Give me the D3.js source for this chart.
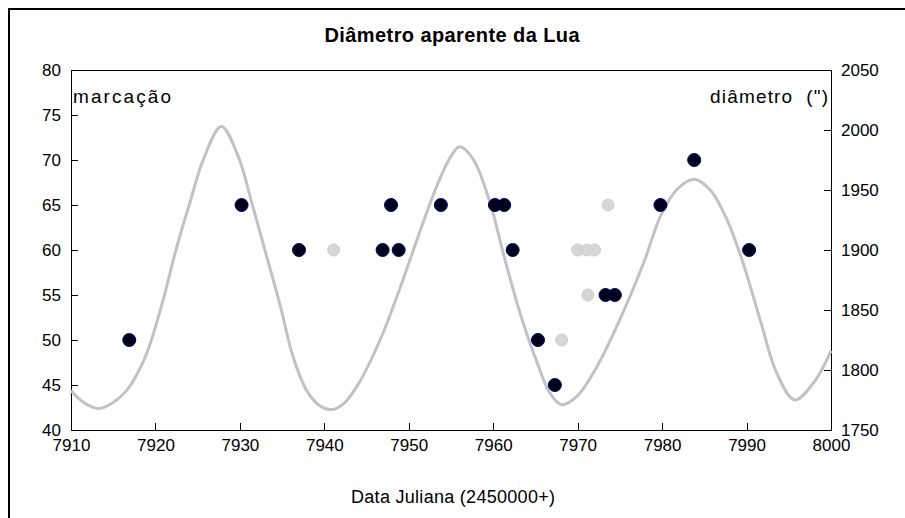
<!DOCTYPE html>
<html lang="pt">
<head>
    <meta charset="UTF-8">
    <title>Diâmetro aparente da Lua</title>
    <style>
        body { margin: 0; background: #fff; }
        text { font-family: "Liberation Sans", Arial, sans-serif; fill: #000; }
    </style>
</head>
<body>
    <svg id="chart" width="905" height="518"></svg>
    <script src="https://d3js.org/d3.v7.min.js"></script>
    <script>
        // apparent diameter curve (right axis, arcsec)
        var curveDays = [7910, 7911.5, 7913.3, 7915, 7916.6, 7918.8, 7920.7, 7922.5, 7924.1, 7925.7,
                         7927.8, 7929.8, 7931.5, 7933.2, 7934.8, 7936.3, 7937.9, 7939.5, 7940.9, 7942.3,
                         7944.0, 7946.6, 7949.0, 7951.3, 7953.3, 7954.9, 7956.0, 7957.6, 7959.6, 7961.2,
                         7963.2, 7965.1, 7966.7, 7968.1, 7969.9, 7972.3, 7975.0, 7977.8, 7979.8, 7981.7,
                         7983.8, 7985.7, 7987.7, 7989.6, 7991.6, 7993.6, 7995.7, 7998.0, 8000];
        var curveDiam = [1783, 1773, 1768, 1773, 1783, 1811, 1853, 1902, 1940, 1976,
                         2003, 1978, 1937, 1894, 1853, 1811, 1783, 1770, 1767, 1772,
                         1788, 1825, 1869, 1915, 1953, 1977, 1986, 1976, 1940, 1897,
                         1847, 1808, 1781, 1771, 1778, 1803, 1842, 1889, 1928, 1950,
                         1959, 1950, 1925, 1889, 1842, 1797, 1775, 1790, 1816];

        // marks (left axis)
        var darkDays = [7916.9, 7930.2, 7937.0, 7946.9, 7947.9, 7948.8, 7953.8, 7960.2, 7961.3,
                        7962.3, 7965.3, 7967.3, 7973.3, 7974.4, 7979.8, 7983.8, 7990.3];
        var darkMarks = [50, 65, 60, 60, 65, 60, 65, 65, 65, 60, 50, 45, 55, 55, 65, 70, 60];
        var greyDays = [7941.1, 7968.1, 7970.0, 7971.1, 7972.0, 7971.2, 7973.6];
        var greyMarks = [60, 50, 60, 60, 60, 55, 65];

        var xTicks = [7910, 7920, 7930, 7940, 7950, 7960, 7970, 7980, 7990, 8000];
        var leftTicks = [40, 45, 50, 55, 60, 65, 70, 75, 80];
        var rightTicks = [1750, 1800, 1850, 1900, 1950, 2000, 2050];

        var margin = { top: 70, right: 74, bottom: 88, left: 71 },
            width = 905 - margin.left - margin.right,
            height = 518 - margin.top - margin.bottom;

        var svg = d3.select("#chart");

        // outer chart frame (runs off the right / bottom edge)
        svg.append("rect")
           .attr("x", 9).attr("y", 9)
           .attr("width", 920).attr("height", 540)
           .style("fill", "none")
           .style("stroke", "#000")
           .style("stroke-width", 2);

        var g = svg.append("g")
                   .attr("transform", "translate(" + margin.left + "," + margin.top + ")");

        var x = d3.scaleLinear().domain([7910, 8000]).range([0, width]);
        var yLeft = d3.scaleLinear().domain([40, 80]).range([height, 0]);
        var yRight = d3.scaleLinear().domain([1750, 2050]).range([height, 0]);

        // plot box
        g.append("rect")
         .attr("width", width).attr("height", height)
         .style("fill", "none").style("stroke", "#000").style("stroke-width", 1)
         .attr("shape-rendering", "crispEdges");

        // curve
        var line = d3.line()
                     .x(function(d, i) { return x(curveDays[i]); })
                     .y(function(d) { return yRight(d); })
                     .curve(d3.curveCatmullRom.alpha(0.5));

        g.append("path")
         .datum(curveDiam)
         .attr("d", line)
         .style("fill", "none")
         .style("stroke", "#c3c0c6")
         .style("stroke-width", 3);

        // grey marks
        g.selectAll(".grey")
         .data(greyMarks)
         .enter().append("circle")
         .attr("class", "grey")
         .attr("cx", function(d, i) { return x(greyDays[i]); })
         .attr("cy", function(d) { return yLeft(d); })
         .attr("r", 6)
         .style("fill", "#d6d6d6")
         .style("stroke", "#cfcfcf");

        // dark marks
        g.selectAll(".dark")
         .data(darkMarks)
         .enter().append("circle")
         .attr("class", "dark")
         .attr("cx", function(d, i) { return x(darkDays[i]); })
         .attr("cy", function(d) { return yLeft(d); })
         .attr("r", 6.5)
         .style("fill", "#000018")
         .style("stroke", "#000070")
         .style("stroke-width", 1);

        // axes
        var xAxis = g.append("g")
                     .attr("transform", "translate(0," + height + ")")
                     .call(d3.axisBottom(x).tickValues(xTicks).tickFormat(d3.format("d"))
                             .tickSizeInner(-7).tickSizeOuter(0).tickPadding(9));

        var lAxis = g.append("g")
                     .call(d3.axisLeft(yLeft).tickValues(leftTicks).tickFormat(d3.format("d"))
                             .tickSizeInner(-7).tickSizeOuter(0).tickPadding(10));

        var rAxis = g.append("g")
                     .attr("transform", "translate(" + width + ",0)")
                     .call(d3.axisRight(yRight).tickValues(rightTicks).tickFormat(d3.format("d"))
                             .tickSizeInner(-7).tickSizeOuter(0).tickPadding(10));

        [xAxis, lAxis, rAxis].forEach(function(a) {
            a.select(".domain").remove();
            a.selectAll("line").style("stroke", "#000").attr("shape-rendering", "crispEdges");
            a.selectAll("text").style("font-size", "17px").style("fill", "#000");
        });

        // title
        svg.append("text")
           .attr("x", 452).attr("y", 42)
           .attr("textLength", 255)
           .attr("lengthAdjust", "spacing")
           .style("text-anchor", "middle")
           .style("font-size", "20px")
           .style("font-weight", "bold")
           .text("Diâmetro aparente da Lua");

        // series labels inside the plot
        g.append("text")
         .attr("x", 2).attr("y", 33)
         .attr("textLength", 98)
         .attr("lengthAdjust", "spacing")
         .style("font-size", "19px")
         .text("marcação");

        g.append("text")
         .attr("x", width - 3).attr("y", 33)
         .attr("textLength", 118)
         .attr("lengthAdjust", "spacing")
         .style("text-anchor", "end")
         .style("font-size", "19px")
         .style("white-space", "pre")
         .text("diâmetro  (\")");

        // x axis title
        svg.append("text")
           .attr("x", 453).attr("y", 503)
           .attr("textLength", 204)
           .attr("lengthAdjust", "spacing")
           .style("text-anchor", "middle")
           .style("font-size", "18px")
           .text("Data Juliana (2450000+)");
    </script>
</body>
</html>
